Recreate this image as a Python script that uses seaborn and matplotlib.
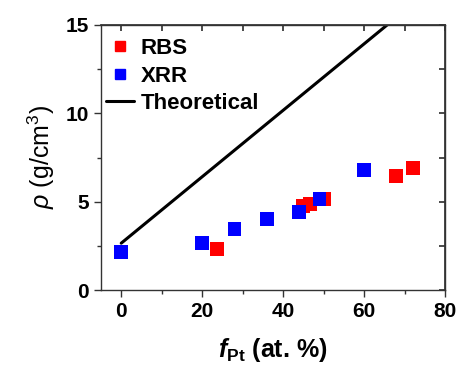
import matplotlib
matplotlib.use("Agg")
import matplotlib.pyplot as plt
import seaborn as sns
import pandas as pd
from matplotlib.lines import Line2D
from matplotlib.ticker import MultipleLocator

# Data
xrr_fpt = [0, 20, 28, 36, 44, 49, 60]
xrr_rho = [2.13, 2.64, 3.43, 4.02, 4.43, 5.13, 6.77]
rbs_fpt = [23.6, 45, 46.7, 50, 67.8, 72]
rbs_rho = [2.30, 4.77, 4.87, 5.15, 6.45, 6.89]
theo_fpt = [0, 100]
theo_rho = [2.65, 21.45]

sns.set_theme(style="ticks")
plt.rcParams['font.family'] = ['Liberation Sans', 'DejaVu Sans']
plt.rcParams['mathtext.fontset'] = 'custom'
plt.rcParams['mathtext.rm'] = 'Liberation Sans'
plt.rcParams['mathtext.it'] = 'Liberation Sans:italic'
plt.rcParams['mathtext.bf'] = 'Liberation Sans:bold'
plt.rcParams['mathtext.bfit'] = 'Liberation Sans:italic:bold'
plt.rcParams['text.color'] = 'black'
plt.rcParams['axes.labelcolor'] = 'black'
plt.rcParams['xtick.color'] = 'black'
plt.rcParams['ytick.color'] = 'black'

df = pd.concat([
    pd.DataFrame({'f': rbs_fpt, 'rho': rbs_rho, 'method': 'RBS'}),
    pd.DataFrame({'f': xrr_fpt, 'rho': xrr_rho, 'method': 'XRR'}),
])
theo = pd.DataFrame({'f': theo_fpt, 'rho': theo_rho})

fig = plt.figure(figsize=(4.6, 3.7), dpi=100)
ax = fig.add_axes([101/460, 1-290/370, (445-101)/460, (290-25)/370])

sns.lineplot(data=theo, x='f', y='rho', color='black', linewidth=2.2, ax=ax)
sns.scatterplot(data=df, x='f', y='rho', hue='method', palette={'RBS': '#ff0000', 'XRR': '#0000ff'},
                marker='s', s=100, edgecolor='none', legend=False, ax=ax)

ax.set_xlim(-5, 80)
ax.set_ylim(0, 15)
ax.xaxis.set_major_locator(MultipleLocator(20))
ax.xaxis.set_minor_locator(MultipleLocator(10))
ax.yaxis.set_major_locator(MultipleLocator(5))
ax.yaxis.set_minor_locator(MultipleLocator(2.5))

for s in ax.spines.values():
    s.set_visible(True)
    s.set_linewidth(1.0)
    s.set_color('#333333')

ax.tick_params(axis='both', which='both', direction='out', color='#333333', width=1.0,
               labelcolor='black')
ax.tick_params(axis='both', which='major', length=5, labelsize=15)
ax.tick_params(axis='both', which='minor', length=3)

sec_x = ax.secondary_xaxis('top')
sec_x.xaxis.set_major_locator(MultipleLocator(10))
sec_x.tick_params(direction='in', length=4, color='#333333', labeltop=False)
sec_x.set_xticklabels([])
sec_y = ax.secondary_yaxis('right')
sec_y.yaxis.set_major_locator(MultipleLocator(2.5))
sec_y.tick_params(direction='in', length=4, color='#333333', labelright=False)
sec_y.set_yticklabels([])
for sa in (sec_x, sec_y):
    for s in sa.spines.values():
        s.set_color('#333333')

for lab in ax.get_xticklabels() + ax.get_yticklabels():
    lab.set_fontweight('bold')

ax.set_xlabel(r'$\mathbfit{f}_{\mathbf{Pt}}$ (at. %)', fontsize=18, fontweight='bold', labelpad=11)
ax.set_ylabel(r'$\rho$ (g/cm$^3$)', fontsize=18, labelpad=6)

handles = [
    Line2D([], [], marker='s', color='#ff0000', linestyle='none', markersize=7),
    Line2D([], [], marker='s', color='#0000ff', linestyle='none', markersize=7),
    Line2D([], [], color='black', linewidth=2.2),
]
leg = ax.legend(handles, ['RBS', 'XRR', 'Theoretical'], loc='upper left', frameon=False,
                prop={'weight': 'bold', 'size': 16}, handlelength=1.25, handletextpad=0.3,
                labelspacing=0.3, borderaxespad=0.0, bbox_to_anchor=(-0.01, 0.985))

fig.savefig('out.png', dpi=100)
